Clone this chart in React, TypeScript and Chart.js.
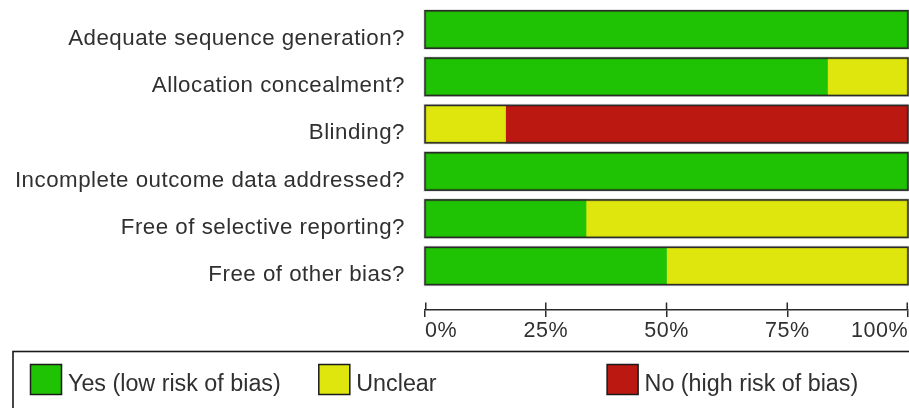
import React, { useEffect, useRef } from "react";
import { Chart, registerables } from "chart.js";

Chart.register(...registerables);

const categories = [
  "Adequate sequence generation?",
  "Allocation concealment?",
  "Blinding?",
  "Incomplete outcome data addressed?",
  "Free of selective reporting?",
  "Free of other bias?",
];
const yesLow = [100, 83.33, 0, 100, 33.33, 50];
const unclear = [0, 16.67, 16.67, 0, 66.67, 50];
const noHigh = [0, 0, 83.33, 0, 0, 0];
const seriesNames = ["Yes (low risk of bias)", "Unclear", "No (high risk of bias)"];
const xTicks = [0, 25, 50, 75, 100];

const COLORS = ["#20c204", "#dee60e", "#ba1810"];
const FONT = "'Liberation Sans', Arial, sans-serif";
const TEXT = "#303030";
const LINE = "#2a2a2a";

const spacing = {
  id: "spacing",
  beforeDraw(chart: any) {
    chart.ctx.letterSpacing = "0.5px";
  },
};

const barOutline = {
  id: "barOutline",
  afterDatasetsDraw(chart: any) {
    const ctx = chart.ctx;
    const meta = chart.getDatasetMeta(0);
    const xs = chart.scales.x;
    const x0 = xs.getPixelForValue(0);
    const x1 = xs.getPixelForValue(100);
    ctx.save();
    meta.data.forEach((bar: any) => {
      const h = bar.height;
      const top = bar.y - h / 2;
      ctx.strokeStyle = "rgba(0,0,0,0.15)";
      ctx.lineWidth = 3;
      ctx.strokeRect(x0, top, x1 - x0, h);
      ctx.strokeStyle = LINE;
      ctx.lineWidth = 1.5;
      ctx.strokeRect(x0, top, x1 - x0, h);
    });
    // upper half of the axis tick marks
    ctx.strokeStyle = LINE;
    ctx.lineWidth = 1.5;
    xs.ticks.forEach((t: any) => {
      const px = Math.min(Math.max(xs.getPixelForValue(t.value), x0 + 0.75), x1 - 0.75);
      ctx.beginPath();
      ctx.moveTo(px, xs.top - 7);
      ctx.lineTo(px, xs.top);
      ctx.stroke();
    });
    ctx.restore();
  },
};

const boxLegend = {
  id: "boxLegend",
  afterDraw(chart: any) {
    const ctx = chart.ctx;
    ctx.save();
    ctx.letterSpacing = "0px";
    ctx.strokeStyle = "#1a1a1a";
    ctx.lineWidth = 1.6;
    ctx.strokeRect(13, 351.5, 920, 100);
    chart.data.datasets.forEach((ds: any, i: number) => {
      const x = 30.5 + i * 288.3;
      ctx.fillStyle = ds.backgroundColor;
      ctx.fillRect(x, 364.5, 31, 30);
      ctx.strokeStyle = "#1a1a1a";
      ctx.lineWidth = 1.5;
      ctx.strokeRect(x, 364.5, 31, 30);
      ctx.fillStyle = TEXT;
      ctx.font = `23.3px ${FONT}`;
      ctx.textBaseline = "alphabetic";
      ctx.textAlign = "left";
      ctx.fillText(ds.label, x + 37.5, 391);
    });
    ctx.restore();
  },
};

export default function App() {
  const ref = useRef<HTMLCanvasElement>(null);
  useEffect(() => {
    if (!ref.current) return;
    const series = [yesLow, unclear, noHigh];
    const chart = new Chart(ref.current, {
      type: "bar",
      data: {
        datasets: series.map((vals, k) => ({
          label: seriesNames[k],
          data: vals.map((v, i) => ({ x: v, y: i })),
          backgroundColor: COLORS[k],
          borderWidth: 0,
          barThickness: 37.5,
        })),
      },
      options: {
        indexAxis: "y",
        animation: false,
        responsive: false,
        layout: { padding: { top: 5.85, left: 0, right: 1, bottom: 58.5 } },
        plugins: { legend: { display: false }, tooltip: { enabled: false } },
        scales: {
          x: {
            type: "linear",
            stacked: true,
            offset: false,
            min: 0,
            max: 100,
            afterBuildTicks: (s: any) => {
              s.ticks = xTicks.map((v) => ({ value: v }));
            },
            afterFit: (s: any) => {
              s.height = 40;
              s.paddingLeft = 0;
              s.paddingRight = 0;
            },
            ticks: {
              align: "inner",
              padding: 1,
              color: TEXT,
              font: { family: FONT, size: 21.5 },
              callback: (v: any) => v + "%",
            },
            grid: {
              offset: false,
              drawOnChartArea: false,
              drawTicks: true,
              tickLength: 7.5,
              color: LINE,
              lineWidth: 1.5,
            },
            border: { display: true, color: LINE, width: 1.5 },
          },
          y: {
            type: "linear",
            stacked: true,
            offset: false,
            reverse: true,
            min: -0.5,
            max: 5.92,
            afterBuildTicks: (s: any) => {
              s.ticks = categories.map((_, i) => ({ value: i }));
            },
            afterFit: (s: any) => {
              s.width = 425;
              s.paddingTop = 0;
              s.paddingBottom = 0;
            },
            ticks: {
              autoSkip: false,
              padding: 20,
              labelOffset: 9,
              color: TEXT,
              font: { family: FONT, size: 22.3 },
              callback: (v: any) => categories[v as number] ?? "",
            },
            grid: { display: false, drawTicks: false, offset: false },
            border: { display: false },
          },
        },
      },
      plugins: [spacing, barOutline, boxLegend],
    } as any);
    return () => chart.destroy();
  }, []);
  return (
    <div style={{ position: "absolute", left: 0, top: 0, width: 909, height: 408, background: "#fff" }}>
      <canvas ref={ref} width={909} height={408} />
    </div>
  );
}
